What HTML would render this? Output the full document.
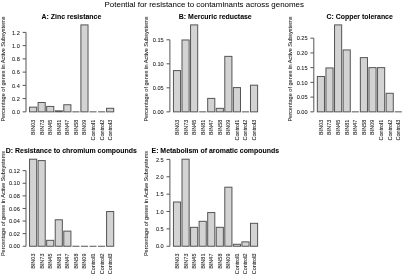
<!DOCTYPE html>
<html><head><meta charset="utf-8"><title>Potential for resistance to contaminants across genomes</title><style>
html,body{margin:0;padding:0;background:#fff;width:402px;height:275px;overflow:hidden}
svg{display:block;will-change:transform}
text{font-family:"Liberation Sans",sans-serif;fill:#000}
.b{fill:#d3d3d3;stroke:#555;stroke-width:1}
.l{fill:none;stroke:#555;stroke-width:1}
.tl{font-size:5.62px;text-anchor:end;fill:#1a1a1a;stroke:#1a1a1a;stroke-width:0.06px}
.xl{font-size:5.5px;text-anchor:end;fill:#1a1a1a;stroke:#1a1a1a;stroke-width:0.06px}
.yl{font-size:5.55px;text-anchor:middle;fill:#1a1a1a;stroke:#1a1a1a;stroke-width:0.06px}
.pt{font-size:6.95px;font-weight:bold;text-anchor:middle;stroke:#000;stroke-width:0.05px}
.mt{font-size:7.95px;text-anchor:middle;stroke:#000;stroke-width:0.03px}
</style></head><body>
<svg width="402" height="275" viewBox="0 0 402 275">
<rect x="29.54" y="107.15" width="7.13" height="4.70" class="b"/>
<rect x="38.10" y="102.51" width="7.13" height="9.34" class="b"/>
<rect x="46.66" y="106.42" width="7.13" height="5.43" class="b"/>
<rect x="55.22" y="110.86" width="7.13" height="0.99" class="b"/>
<rect x="63.78" y="104.76" width="7.13" height="7.09" class="b"/>
<path d="M72.34 111.85H79.47" class="l"/>
<rect x="80.90" y="24.90" width="7.13" height="86.95" class="b"/>
<path d="M89.46 111.85H96.59" class="l"/>
<path d="M98.02 111.85H105.15" class="l"/>
<rect x="106.58" y="108.27" width="7.13" height="3.58" class="b"/>
<path d="M26.00 111.85V32.38M22.60 111.85H26.00M22.60 98.61H26.00M22.60 85.36H26.00M22.60 72.12H26.00M22.60 58.87H26.00M22.60 45.63H26.00M22.60 32.38H26.00" class="l"/>
<rect x="173.44" y="70.58" width="7.13" height="41.27" class="b"/>
<rect x="182.00" y="39.98" width="7.13" height="71.87" class="b"/>
<rect x="190.56" y="24.90" width="7.13" height="86.95" class="b"/>
<path d="M199.12 111.85H206.25" class="l"/>
<rect x="207.68" y="98.40" width="7.13" height="13.45" class="b"/>
<rect x="216.24" y="108.34" width="7.13" height="3.51" class="b"/>
<rect x="224.80" y="56.37" width="7.13" height="55.48" class="b"/>
<rect x="233.36" y="87.59" width="7.13" height="24.26" class="b"/>
<path d="M241.92 111.85H249.05" class="l"/>
<rect x="250.48" y="85.19" width="7.13" height="26.66" class="b"/>
<path d="M169.90 111.85V39.79M166.50 111.85H169.90M166.50 87.83H169.90M166.50 63.81H169.90M166.50 39.79H169.90" class="l"/>
<rect x="317.34" y="76.48" width="7.13" height="35.37" class="b"/>
<rect x="325.94" y="67.93" width="7.13" height="43.92" class="b"/>
<rect x="334.54" y="24.90" width="7.13" height="86.95" class="b"/>
<rect x="343.14" y="49.95" width="7.13" height="61.90" class="b"/>
<path d="M351.74 111.85H358.87" class="l"/>
<rect x="360.34" y="57.62" width="7.13" height="54.23" class="b"/>
<rect x="368.94" y="67.64" width="7.13" height="44.21" class="b"/>
<rect x="377.54" y="67.64" width="7.13" height="44.21" class="b"/>
<rect x="386.14" y="93.28" width="7.13" height="18.57" class="b"/>
<path d="M394.74 111.85H401.87" class="l"/>
<path d="M313.80 111.85V38.16M310.40 111.85H313.80M310.40 97.11H313.80M310.40 82.38H313.80M310.40 67.64H313.80M310.40 52.90H313.80M310.40 38.16H313.80" class="l"/>
<rect x="29.54" y="159.20" width="7.13" height="87.05" class="b"/>
<rect x="38.10" y="160.59" width="7.13" height="85.66" class="b"/>
<rect x="46.66" y="240.33" width="7.13" height="5.92" class="b"/>
<rect x="55.22" y="219.79" width="7.13" height="26.46" class="b"/>
<rect x="63.78" y="231.13" width="7.13" height="15.12" class="b"/>
<path d="M72.34 246.25H79.47" class="l"/>
<path d="M80.90 246.25H88.03" class="l"/>
<path d="M89.46 246.25H96.59" class="l"/>
<path d="M98.02 246.25H105.15" class="l"/>
<rect x="106.58" y="211.54" width="7.13" height="34.71" class="b"/>
<path d="M26.00 246.25V170.66M22.60 246.25H26.00M22.60 233.65H26.00M22.60 221.05H26.00M22.60 208.46H26.00M22.60 195.86H26.00M22.60 183.26H26.00M22.60 170.66H26.00" class="l"/>
<rect x="173.44" y="202.00" width="7.13" height="44.25" class="b"/>
<rect x="182.00" y="159.20" width="7.13" height="87.05" class="b"/>
<rect x="190.56" y="227.32" width="7.13" height="18.93" class="b"/>
<rect x="199.12" y="221.31" width="7.13" height="24.94" class="b"/>
<rect x="207.68" y="212.56" width="7.13" height="33.69" class="b"/>
<rect x="216.24" y="227.32" width="7.13" height="18.93" class="b"/>
<rect x="224.80" y="187.20" width="7.13" height="59.05" class="b"/>
<rect x="233.36" y="244.27" width="7.13" height="1.98" class="b"/>
<rect x="241.92" y="241.87" width="7.13" height="4.38" class="b"/>
<rect x="250.48" y="223.32" width="7.13" height="22.93" class="b"/>
<path d="M169.90 246.25V159.41M166.50 246.25H169.90M166.50 228.88H169.90M166.50 211.51H169.90M166.50 194.15H169.90M166.50 176.78H169.90M166.50 159.41H169.90" class="l"/>
<text x="19.80" y="114.07" class="tl">0.0</text>
<text x="19.80" y="100.82" class="tl">0.2</text>
<text x="19.80" y="87.58" class="tl">0.4</text>
<text x="19.80" y="74.34" class="tl">0.6</text>
<text x="19.80" y="61.09" class="tl">0.8</text>
<text x="19.80" y="47.85" class="tl">1.0</text>
<text x="19.80" y="34.60" class="tl">1.2</text>
<text transform="translate(35.07 119.65) rotate(-90)" class="xl">BIN03</text>
<text transform="translate(43.63 119.65) rotate(-90)" class="xl">BIN73</text>
<text transform="translate(52.19 119.65) rotate(-90)" class="xl">BIN45</text>
<text transform="translate(60.75 119.65) rotate(-90)" class="xl">BIN81</text>
<text transform="translate(69.31 119.65) rotate(-90)" class="xl">BIN47</text>
<text transform="translate(77.87 119.65) rotate(-90)" class="xl">BIN58</text>
<text transform="translate(86.43 119.65) rotate(-90)" class="xl">BIN09</text>
<text transform="translate(94.99 119.65) rotate(-90)" class="xl">Control1</text>
<text transform="translate(103.55 119.65) rotate(-90)" class="xl">Control2</text>
<text transform="translate(112.11 119.65) rotate(-90)" class="xl">Control3</text>
<text transform="translate(4.50 69.00) rotate(-90)" class="yl">Percentage of genes in Active Subsystems</text>
<text x="71.40" y="18.80" class="pt">A: Zinc resistance</text>
<text x="163.70" y="114.07" class="tl">0.00</text>
<text x="163.70" y="90.05" class="tl">0.05</text>
<text x="163.70" y="66.03" class="tl">0.10</text>
<text x="163.70" y="42.01" class="tl">0.15</text>
<text transform="translate(178.97 119.65) rotate(-90)" class="xl">BIN03</text>
<text transform="translate(187.53 119.65) rotate(-90)" class="xl">BIN73</text>
<text transform="translate(196.09 119.65) rotate(-90)" class="xl">BIN45</text>
<text transform="translate(204.65 119.65) rotate(-90)" class="xl">BIN81</text>
<text transform="translate(213.21 119.65) rotate(-90)" class="xl">BIN47</text>
<text transform="translate(221.77 119.65) rotate(-90)" class="xl">BIN58</text>
<text transform="translate(230.33 119.65) rotate(-90)" class="xl">BIN09</text>
<text transform="translate(238.89 119.65) rotate(-90)" class="xl">Control1</text>
<text transform="translate(247.45 119.65) rotate(-90)" class="xl">Control2</text>
<text transform="translate(256.01 119.65) rotate(-90)" class="xl">Control3</text>
<text transform="translate(148.40 69.00) rotate(-90)" class="yl">Percentage of genes in Active Subsystems</text>
<text x="215.30" y="18.80" class="pt">B: Mercuric reductase</text>
<text x="307.60" y="114.07" class="tl">0.00</text>
<text x="307.60" y="99.33" class="tl">0.05</text>
<text x="307.60" y="84.59" class="tl">0.10</text>
<text x="307.60" y="69.86" class="tl">0.15</text>
<text x="307.60" y="55.12" class="tl">0.20</text>
<text x="307.60" y="40.38" class="tl">0.25</text>
<text transform="translate(322.87 119.65) rotate(-90)" class="xl">BIN03</text>
<text transform="translate(331.47 119.65) rotate(-90)" class="xl">BIN73</text>
<text transform="translate(340.07 119.65) rotate(-90)" class="xl">BIN45</text>
<text transform="translate(348.67 119.65) rotate(-90)" class="xl">BIN81</text>
<text transform="translate(357.27 119.65) rotate(-90)" class="xl">BIN47</text>
<text transform="translate(365.87 119.65) rotate(-90)" class="xl">BIN58</text>
<text transform="translate(374.47 119.65) rotate(-90)" class="xl">BIN09</text>
<text transform="translate(383.07 119.65) rotate(-90)" class="xl">Control1</text>
<text transform="translate(391.67 119.65) rotate(-90)" class="xl">Control2</text>
<text transform="translate(400.27 119.65) rotate(-90)" class="xl">Control3</text>
<text transform="translate(292.30 69.00) rotate(-90)" class="yl">Percentage of genes in Active Subsystems</text>
<text x="359.70" y="18.80" class="pt">C: Copper tolerance</text>
<text x="19.80" y="248.47" class="tl">0.00</text>
<text x="19.80" y="235.87" class="tl">0.02</text>
<text x="19.80" y="223.27" class="tl">0.04</text>
<text x="19.80" y="210.68" class="tl">0.06</text>
<text x="19.80" y="198.08" class="tl">0.08</text>
<text x="19.80" y="185.48" class="tl">0.10</text>
<text x="19.80" y="172.88" class="tl">0.12</text>
<text transform="translate(35.07 253.55) rotate(-90)" class="xl">BIN03</text>
<text transform="translate(43.63 253.55) rotate(-90)" class="xl">BIN73</text>
<text transform="translate(52.19 253.55) rotate(-90)" class="xl">BIN45</text>
<text transform="translate(60.75 253.55) rotate(-90)" class="xl">BIN81</text>
<text transform="translate(69.31 253.55) rotate(-90)" class="xl">BIN47</text>
<text transform="translate(77.87 253.55) rotate(-90)" class="xl">BIN58</text>
<text transform="translate(86.43 253.55) rotate(-90)" class="xl">BIN09</text>
<text transform="translate(94.99 253.55) rotate(-90)" class="xl">Control1</text>
<text transform="translate(103.55 253.55) rotate(-90)" class="xl">Control2</text>
<text transform="translate(112.11 253.55) rotate(-90)" class="xl">Control3</text>
<text transform="translate(4.50 203.50) rotate(-90)" class="yl">Percentage of genes in Active Subsystems</text>
<text x="71.40" y="153.40" class="pt">D: Resistance to chromium compounds</text>
<text x="163.70" y="248.47" class="tl">0.0</text>
<text x="163.70" y="231.10" class="tl">0.5</text>
<text x="163.70" y="213.73" class="tl">1.0</text>
<text x="163.70" y="196.36" class="tl">1.5</text>
<text x="163.70" y="179.00" class="tl">2.0</text>
<text x="163.70" y="161.63" class="tl">2.5</text>
<text transform="translate(178.97 253.55) rotate(-90)" class="xl">BIN03</text>
<text transform="translate(187.53 253.55) rotate(-90)" class="xl">BIN73</text>
<text transform="translate(196.09 253.55) rotate(-90)" class="xl">BIN45</text>
<text transform="translate(204.65 253.55) rotate(-90)" class="xl">BIN81</text>
<text transform="translate(213.21 253.55) rotate(-90)" class="xl">BIN47</text>
<text transform="translate(221.77 253.55) rotate(-90)" class="xl">BIN58</text>
<text transform="translate(230.33 253.55) rotate(-90)" class="xl">BIN09</text>
<text transform="translate(238.89 253.55) rotate(-90)" class="xl">Control1</text>
<text transform="translate(247.45 253.55) rotate(-90)" class="xl">Control2</text>
<text transform="translate(256.01 253.55) rotate(-90)" class="xl">Control3</text>
<text transform="translate(148.40 203.50) rotate(-90)" class="yl">Percentage of genes in Active Subsystems</text>
<text x="215.30" y="153.40" class="pt">E: Metabolism of aromatic compounds</text>
<text x="204.3" y="6.7" class="mt">Potential for resistance to contaminants across genomes</text>
</svg>
</body></html>
